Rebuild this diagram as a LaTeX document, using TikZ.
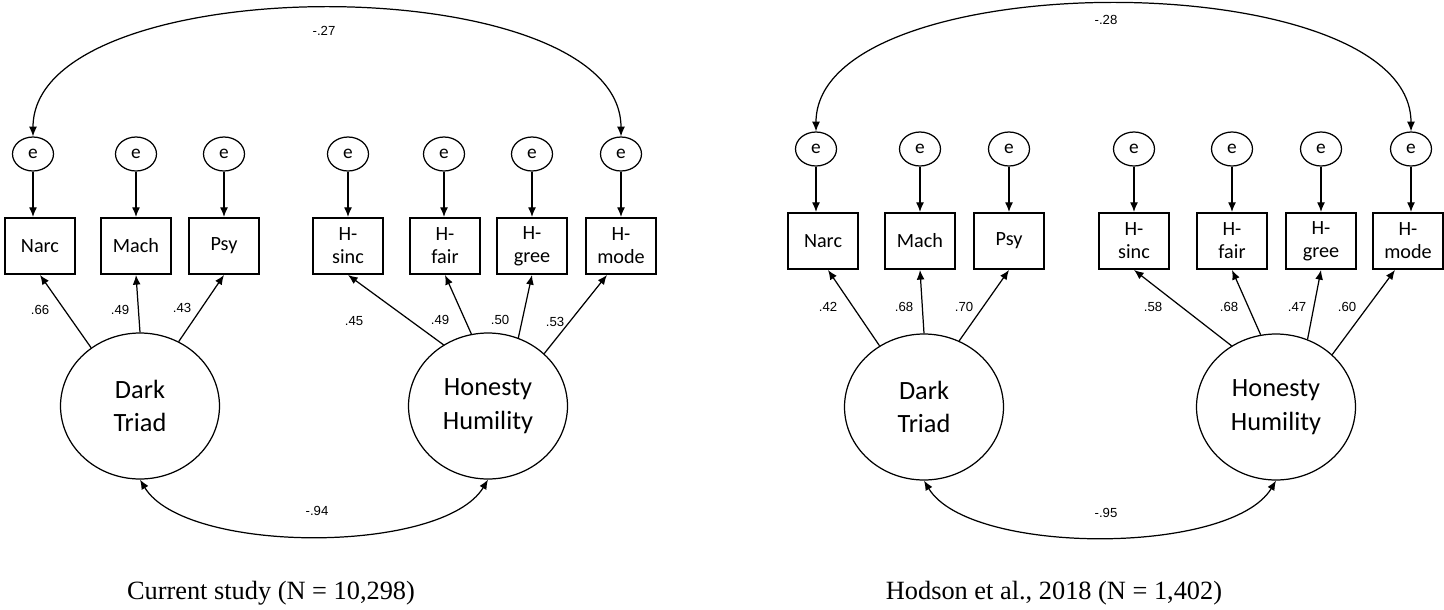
\documentclass[tikz,border=0pt]{standalone}
\usepackage{fontspec}
\setmainfont{Liberation Serif}
\newfontfamily\calibri{Carlito}
\newfontfamily\arialnum{Liberation Sans}
\usetikzlibrary{shapes.geometric,arrows.meta,calc}

\begin{document}
\begin{tikzpicture}[
        x=0.02cm, y=-0.02cm,
        err/.style={draw, ellipse, line width=0.7pt, minimum width=0.82cm, minimum height=0.68cm, inner sep=0pt, font=\calibri\fontsize{11}{13}\selectfont},
        obs/.style={draw, rectangle, line width=1.1pt, minimum width=1.4cm, minimum height=1.12cm, inner sep=0pt, align=center, font=\calibri\fontsize{11.5}{13}\selectfont},
        latent/.style={draw, ellipse, line width=0.7pt, minimum width=3.18cm, minimum height=2.92cm, inner sep=0pt, align=center, font=\calibri\fontsize{15}{19}\selectfont},
        arr/.style={-{Latex[length=5.5pt,width=4.5pt]}, line width=0.7pt},
        cov/.style={{Latex[length=5.5pt,width=4.5pt]}-{Latex[length=5.5pt,width=4.5pt]}, line width=0.7pt},
        coef/.style={font=\arialnum\fontsize{7.5}{9}\selectfont, inner sep=1pt},
        caption/.style={font=\fontsize{15}{18}\selectfont}
    ]
        \useasboundingbox (0,0) rectangle (1444,609);

        % Left panel: current study
        \node[err] (le1) at (33,154) {e};
        \node[err] (le2) at (136,154) {e};
        \node[err] (le3) at (224,154) {e};
        \node[err] (le4) at (348,154) {e};
        \node[err] (le5) at (444,154) {e};
        \node[err] (le6) at (532,154) {e};
        \node[err] (le7) at (621,154) {e};
        \node[obs] (lnarc) at (40,246) {Narc};
        \node[obs] (lmach) at (136,246) {Mach};
        \node[obs] (lpsy) at (224,246) {Psy};
        \node[obs] (lsinc) at (348,246) {H-\\sinc};
        \node[obs] (lfair) at (445,246) {H-\\fair};
        \node[obs] (lgree) at (532,246) {H-\\gree};
        \node[obs] (lmode) at (621,246) {H-\\mode};
        \node[latent] (ldt) at (140,406) {Dark\\Triad};
        \node[latent] (lhh) at (488,406) {Honesty\\Humility};

        \draw[arr] (le1) -- (le1 |- lnarc.north);
        \draw[arr] (le2) -- (le2 |- lmach.north);
        \draw[arr] (le3) -- (le3 |- lpsy.north);
        \draw[arr] (le4) -- (le4 |- lsinc.north);
        \draw[arr] (le5) -- (le5 |- lfair.north);
        \draw[arr] (le6) -- (le6 |- lgree.north);
        \draw[arr] (le7) -- (le7 |- lmode.north);

        \draw[arr] (ldt.130) -- (lnarc.south);
        \draw[arr] (ldt.90) -- (lmach.south);
        \draw[arr] (ldt.59) -- (lpsy.south);
        \draw[arr] (lhh.126) -- (lsinc.south);
        \draw[arr] (lhh.103) -- (lfair.south);
        \draw[arr] (lhh.66) -- (lgree.south);
        \draw[arr] (lhh.43) -- ($(lmode.south)+(-14,0)$);
        \node[coef] (lw1) at (40,310) {.66};
        \node[coef] (lw2) at (120,310) {.49};
        \node[coef] (lw3) at (182,308) {.43};
        \node[coef] (lw4) at (354,321) {.45};
        \node[coef] (lw5) at (440,320) {.49};
        \node[coef] (lw6) at (500,320) {.50};
        \node[coef] (lw7) at (555,322) {.53};

        \draw[cov] (le1.north) .. controls +(0,-170) and +(0,-170) .. (le7.north);
        \node[coef] (lr1) at (324,31) {-.27};
        \draw[cov] (ldt.south) .. controls +(45,75) and +(-45,75) .. (lhh.south);
        \node[coef] (lr2) at (317,511) {-.94};
        \node[caption] (lcap) at (271,593) {Current study (N = 10,298)};

        % Right panel: Hodson et al.
        \node[err] (re1) at (816,149) {e};
        \node[err] (re2) at (920,149) {e};
        \node[err] (re3) at (1009,149) {e};
        \node[err] (re4) at (1134,149) {e};
        \node[err] (re5) at (1232,149) {e};
        \node[err] (re6) at (1321,149) {e};
        \node[err] (re7) at (1411,149) {e};
        \node[obs] (rnarc) at (823,241) {Narc};
        \node[obs] (rmach) at (920,241) {Mach};
        \node[obs] (rpsy) at (1009,241) {Psy};
        \node[obs] (rsinc) at (1134,241) {H-\\sinc};
        \node[obs] (rfair) at (1232,241) {H-\\fair};
        \node[obs] (rgree) at (1321,241) {H-\\gree};
        \node[obs] (rmode) at (1408,241) {H-\\mode};
        \node[latent] (rdt) at (924,407) {Dark\\Triad};
        \node[latent] (rhh) at (1276,407) {Honesty\\Humility};

        \draw[arr] (re1) -- (re1 |- rnarc.north);
        \draw[arr] (re2) -- (re2 |- rmach.north);
        \draw[arr] (re3) -- (re3 |- rpsy.north);
        \draw[arr] (re4) -- (re4 |- rsinc.north);
        \draw[arr] (re5) -- (re5 |- rfair.north);
        \draw[arr] (re6) -- (re6 |- rgree.north);
        \draw[arr] (re7) -- (re7 |- rmode.north);

        \draw[arr] (rdt.126) -- ($(rnarc.south)+(5,0)$);
        \draw[arr] (rdt.90) -- (rmach.south);
        \draw[arr] (rdt.62) -- (rpsy.south);
        \draw[arr] (rhh.126) -- (rsinc.south);
        \draw[arr] (rhh.102) -- (rfair.south);
        \draw[arr] (rhh.65) -- (rgree.south);
        \draw[arr] (rhh.43) -- ($(rmode.south)+(-13,0)$);
        \node[coef] (rw1) at (828,307) {.42};
        \node[coef] (rw2) at (904,307) {.68};
        \node[coef] (rw3) at (964,307) {.70};
        \node[coef] (rw4) at (1153,307) {.58};
        \node[coef] (rw5) at (1229,307) {.68};
        \node[coef] (rw6) at (1297,307) {.47};
        \node[coef] (rw7) at (1347,307) {.60};

        \draw[cov] (re1.north) .. controls +(0,-169) and +(0,-169) .. (re7.north);
        \node[coef] (rr1) at (1106,20) {-.28};
        \draw[cov] (rdt.south) .. controls +(45,75) and +(-45,75) .. (rhh.south);
        \node[coef] (rr2) at (1106,513) {-.95};
        \node[caption] (rcap) at (1054,593) {Hodson et al., 2018 (N = 1,402)};
    \end{tikzpicture}
\end{document}
